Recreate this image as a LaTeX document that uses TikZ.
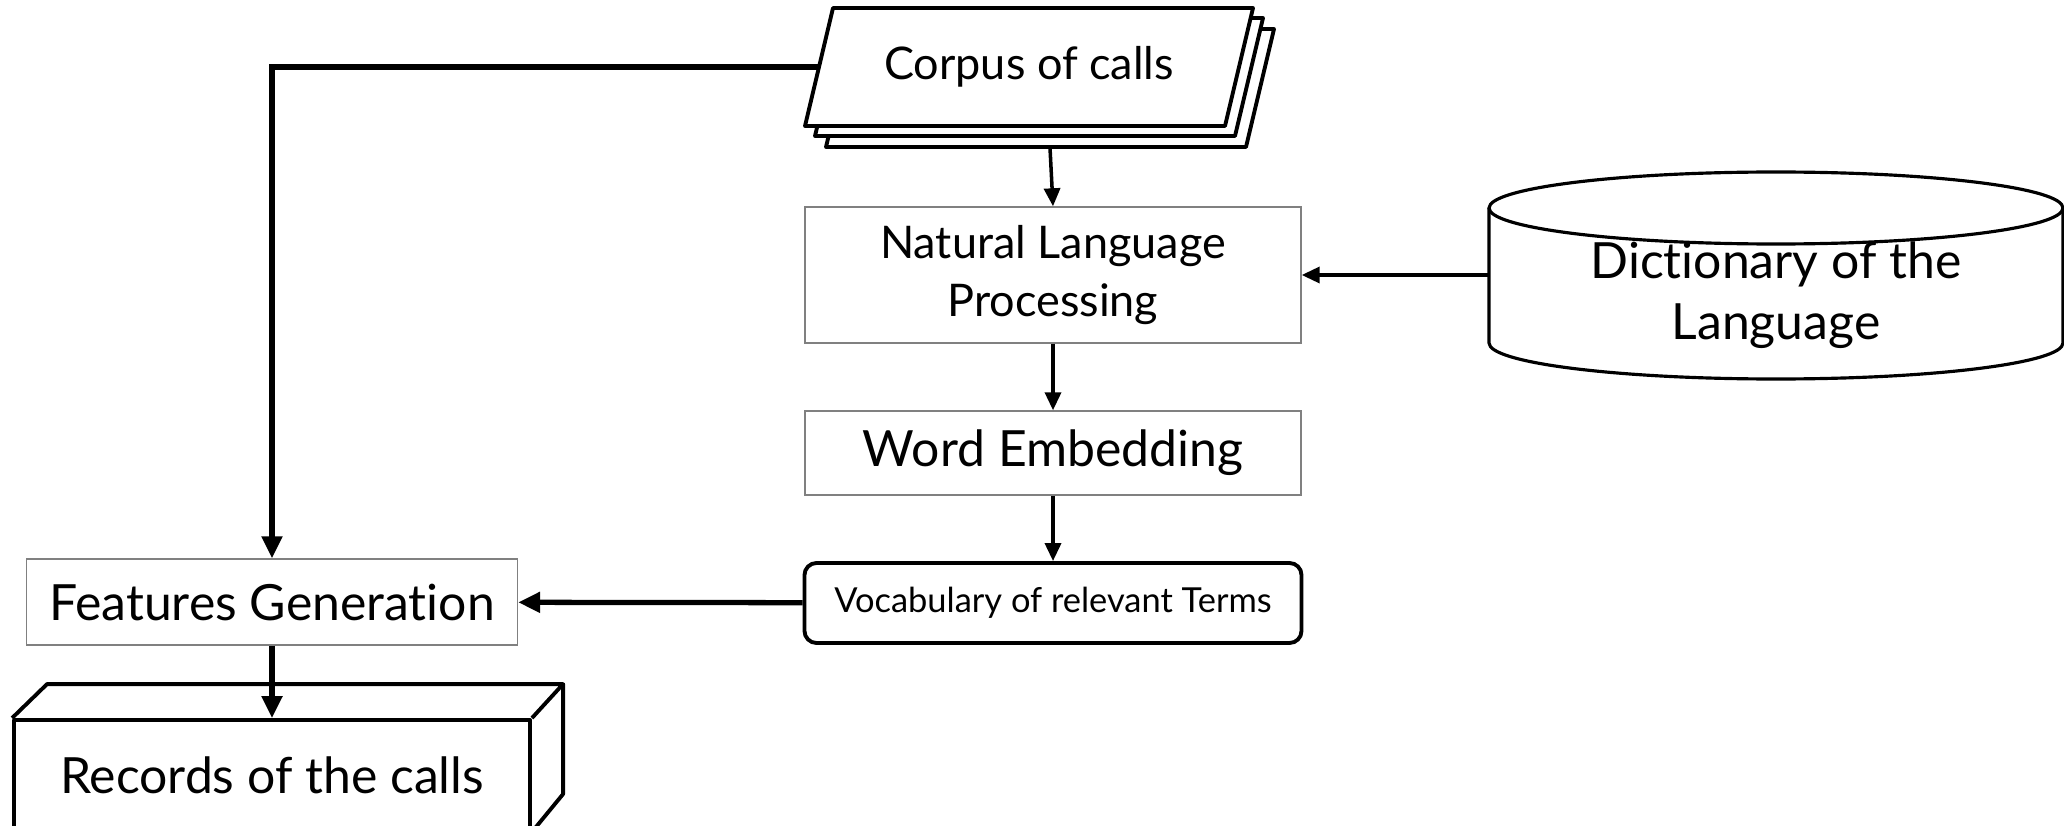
\documentclass[tikz,border=0pt]{standalone}
\usepackage{fontspec}
\setmainfont{Lato}[Ligatures={NoCommon}]
\usetikzlibrary{arrows.meta}

\begin{document}
\begin{tikzpicture}[
  box/.style={draw=gray,line width=0.4pt,minimum width=4.96cm,inner sep=0pt,align=center},
  bigtxt/.style={font=\fontsize{14.2}{17.5}\selectfont},
  midtxt/.style={font=\fontsize{12.8}{16.5}\selectfont},
  arr/.style={line width=1pt,-{Triangle[length=1.8mm,width=1.6mm]}},
  fatarr/.style={line width=1.5pt,-{Triangle[length=2.2mm,width=2mm]}},
  solid3d/.style={line width=1.1pt,line join=round}]
  \useasboundingbox (0,0) rectangle (20.64,-8.26);
  \clip (0,0) rectangle (20.64,-8.26);
  % stacked sheets of the corpus
  \foreach \d in {0.21,0.10,0} {
    \draw[solid3d,fill=white] (8.33+\d,-0.08-\d) -- (12.53+\d,-0.08-\d)
    -- (12.25+\d,-1.26-\d) -- (8.05+\d,-1.26-\d) -- cycle;
  }
  \node[midtxt,minimum width=4.2cm,minimum height=1.18cm,inner sep=0pt] (corpus) at (10.29,-0.67) {Corpus of calls};
  \coordinate (stackbot) at (10.50,-1.48);
  % processing chain
  \node[box,midtxt,minimum height=1.36cm] (nlp) at (10.53,-2.75) {Natural Language\\Processing};
  \node[box,bigtxt,minimum height=0.84cm] (embed) at (10.53,-4.53) {Word Embedding};
  \node[draw,line width=1.1pt,rounded corners=1.2mm,minimum width=4.97cm,minimum height=0.8cm,
    font=\fontsize{9.8}{11}\selectfont] (vocab) at (10.53,-6.03) {Vocabulary of relevant Terms};
  \node[box,bigtxt,minimum width=4.91cm,minimum height=0.86cm] (feat) at (2.72,-6.02) {Features Generation};
  % records box
  \node[draw,solid3d,bigtxt,minimum width=5.16cm,minimum height=1.10cm,inner sep=0pt] (rec) at (2.72,-7.75) {Records of the calls};
  \draw[solid3d] (rec.north west) -- ++(0.35,0.34) -- ++(5.16,0) coordinate (rb) -- (rec.north east);
  \draw[solid3d] (rb) -- ++(0,-1.10) -- (rec.south east);
  % dictionary cylinder
  \draw[line width=0.9pt,fill=white] (14.89,-2.08) -- (14.89,-3.43)
  arc[start angle=180,end angle=360,x radius=2.87,y radius=0.36] -- (20.63,-2.08);
  \draw[line width=0.9pt] (17.76,-2.08) ellipse [x radius=2.87,y radius=0.36];
  \node[bigtxt,align=center,minimum width=5.74cm,inner sep=0pt] (dict) at (17.76,-2.95) {Dictionary of the\\Language};
  % connectors
  \draw[fatarr] (corpus.west) -| (feat.north);
  \draw[arr] (stackbot) -- (nlp.north);
  \draw[arr] (dict.west |- nlp.east) -- (nlp.east);
  \draw[arr] (nlp) -- (embed);
  \draw[arr] (embed) -- (vocab);
  \draw[fatarr] (vocab) -- (feat);
  \draw[fatarr] (feat) -- (rec);
\end{tikzpicture}
\end{document}
